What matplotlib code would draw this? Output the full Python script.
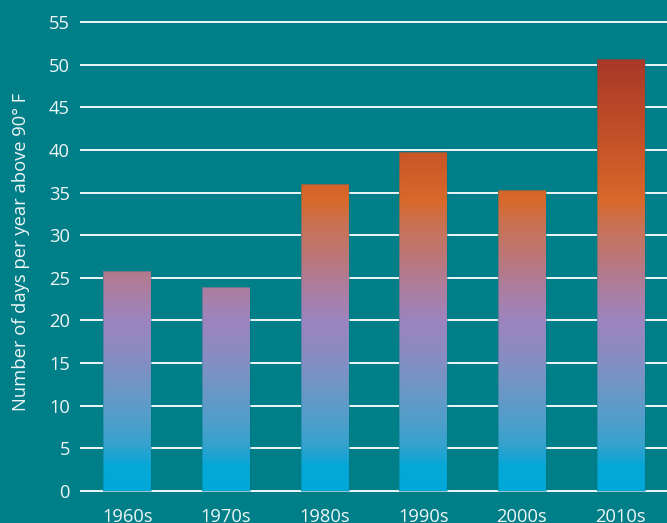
import numpy as np
import matplotlib
matplotlib.use("Agg")
import matplotlib.pyplot as plt
from matplotlib.colors import LinearSegmentedColormap

# Decades and average number of days per year above 90° F
decades = ["1960s", "1970s", "1980s", "1990s", "2000s", "2010s"]
hot_days = [25.8, 23.9, 36.0, 39.8, 35.3, 50.6]
y_ticks = list(range(0, 56, 5))

BG = "#017F89"
TEXT = "#EEF5F5"
YMAX = 55
FS = 13.2

plt.rcParams["font.family"] = ["Open Sans", "DejaVu Sans"]

# Colour ramp tied to the value axis: cyan at the bottom, purple mid-range,
# orange in the mid-thirties, brick red at the top
stops = [
    (0, "#00A9D8"), (3.0, "#06A8D7"), (3.6, "#16A5D4"), (4.6, "#26A3D0"),
    (5.2, "#34A2CE"), (8, "#4F9FCB"), (12, "#6E97C6"), (16, "#8A8CC2"),
    (20, "#9D84BF"), (24, "#AE7D9C"), (28, "#BE7672"), (31, "#C97256"),
    (34, "#D8692B"), (38, "#CD5B28"), (44, "#BC4A28"), (50, "#AA3A29"),
    (55, "#A43428"),
]
cmap = LinearSegmentedColormap.from_list(
    "heat", [(v / YMAX, c) for v, c in stops])

fig = plt.figure(figsize=(6.67, 5.23), dpi=100, facecolor=BG)
ax = fig.add_axes([80 / 667, 27.7 / 523, 1 - 80 / 667, (495.3 - 17.7) / 523])
ax.set_facecolor(BG)

x = np.arange(len(decades))
width = 0.486
bars = ax.bar(x, hot_days, width=width, facecolor="none",
              edgecolor=(0.0, 0.45, 0.5, 0.35), linewidth=0.8, zorder=3)

grad = np.linspace(0, YMAX, 1200).reshape(-1, 1)
for rect in bars:
    x0 = rect.get_x()
    im = ax.imshow(grad, cmap=cmap, vmin=0, vmax=YMAX, origin="lower",
                   extent=(x0, x0 + rect.get_width(), 0, YMAX),
                   aspect="auto", zorder=2, interpolation="bilinear")
    im.set_clip_path(rect)

ax.set_xlim(-0.48, 5.47)
ax.set_ylim(-0.5, 55.5)
ax.set_yticks(y_ticks)
ax.set_xticks(x)
ax.set_xticklabels(decades)
ax.grid(axis="y", color="white", linewidth=1.3, zorder=1)
ax.set_axisbelow(True)
for s in ax.spines.values():
    s.set_visible(False)
ax.tick_params(axis="y", length=0, pad=7.2, labelsize=FS, labelcolor=TEXT)
ax.tick_params(axis="x", length=0, pad=9.5, labelsize=FS, labelcolor=TEXT)

fig.text(21 / 667, 1 - 251.5 / 523, "Number of days per year above 90° F",
         rotation=90, ha="center", va="center", color=TEXT, fontsize=FS)

fig.savefig("out.png", dpi=100, facecolor=BG)
